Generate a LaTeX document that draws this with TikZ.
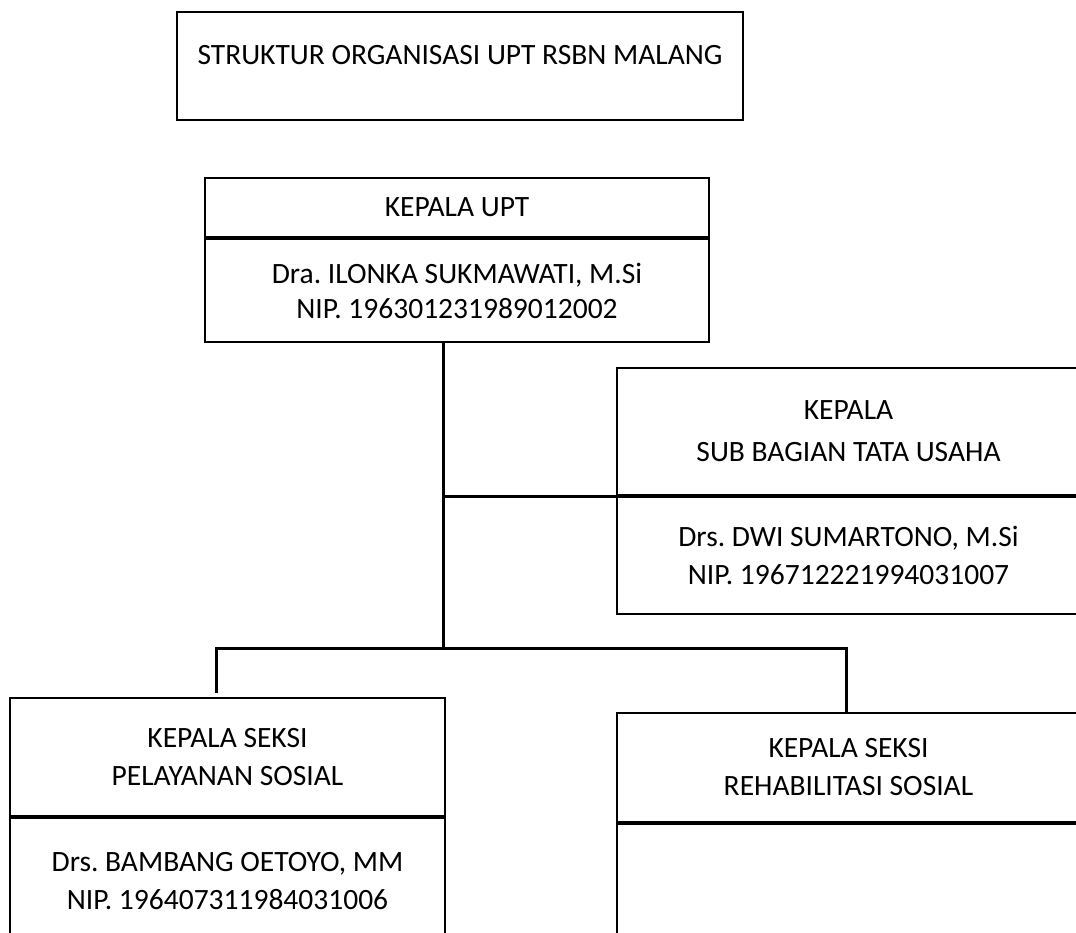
\documentclass[tikz,border=0pt]{standalone}
\usepackage{fontspec}
\setmainfont{Carlito}
\usetikzlibrary{positioning}

\begin{document}
\frenchspacing
\begin{tikzpicture}[x=1pt,y=-1pt,node distance=0pt,
  box/.style={draw,line width=2pt,align=center,inner sep=0pt,font=\fontsize{29.5}{38}\selectfont},
  link/.style={line width=3pt}]
  \useasboundingbox (0,0) rectangle (1076,933);
  \clip (0,0) rectangle (1076,933);

  % judul
  \node[box,minimum width=566pt,minimum height=108pt] (judul) at (460,66) {};
  \node[font=\fontsize{29.5}{38}\selectfont] (judultext) at (460,55) {STRUKTUR ORGANISASI UPT RSBN MALANG};

  % kepala upt
  \node[box,minimum width=504pt,minimum height=59pt] (upthead) at (457,207.5) {KEPALA UPT};
  \node[box,minimum width=504pt,minimum height=103pt] (uptbody) [below=of upthead] {Dra. ILONKA SUKMAWATI, M.Si\\[-3pt]NIP. 196301231989012002};

  % sub bagian tata usaha
  \node[box,minimum width=463pt,minimum height=127pt] (tuhead) at (848.5,431.5) {KEPALA\\[4pt]SUB BAGIAN TATA USAHA};
  \node[box,minimum width=463pt,minimum height=117pt] (tubody) [below=of tuhead] {Drs. DWI SUMARTONO, M.Si\\NIP. 196712221994031007};

  % seksi
  \node[box,minimum width=435pt,minimum height=118pt] (pelhead) at (227.5,757) {KEPALA SEKSI\\PELAYANAN SOSIAL};
  \node[box,minimum width=435pt,minimum height=126pt] (pelbody) [below=of pelhead] {Drs. BAMBANG OETOYO, MM\\NIP. 196407311984031006};
  \node[box,minimum width=463pt,minimum height=109pt] (rehhead) at (848.5,767.5) {KEPALA SEKSI\\REHABILITASI SOSIAL};
  \node[box,minimum width=463pt,minimum height=130pt] (rehbody) [below=of rehhead] {};

  % garis
  \coordinate (bus) at (443,648);
  \coordinate (busL) at (216,648);
  \coordinate (busR) at (846,648);
  \draw[link] (uptbody.south -| bus) -- (bus);
  \draw[link] (tuhead.south west -| bus) -- (tuhead.south west);
  \draw[link] (busL |- pelhead.north) ++(0,-4) -- (busL) -- (busR) -- (busR |- rehhead.north);
\end{tikzpicture}
\end{document}
